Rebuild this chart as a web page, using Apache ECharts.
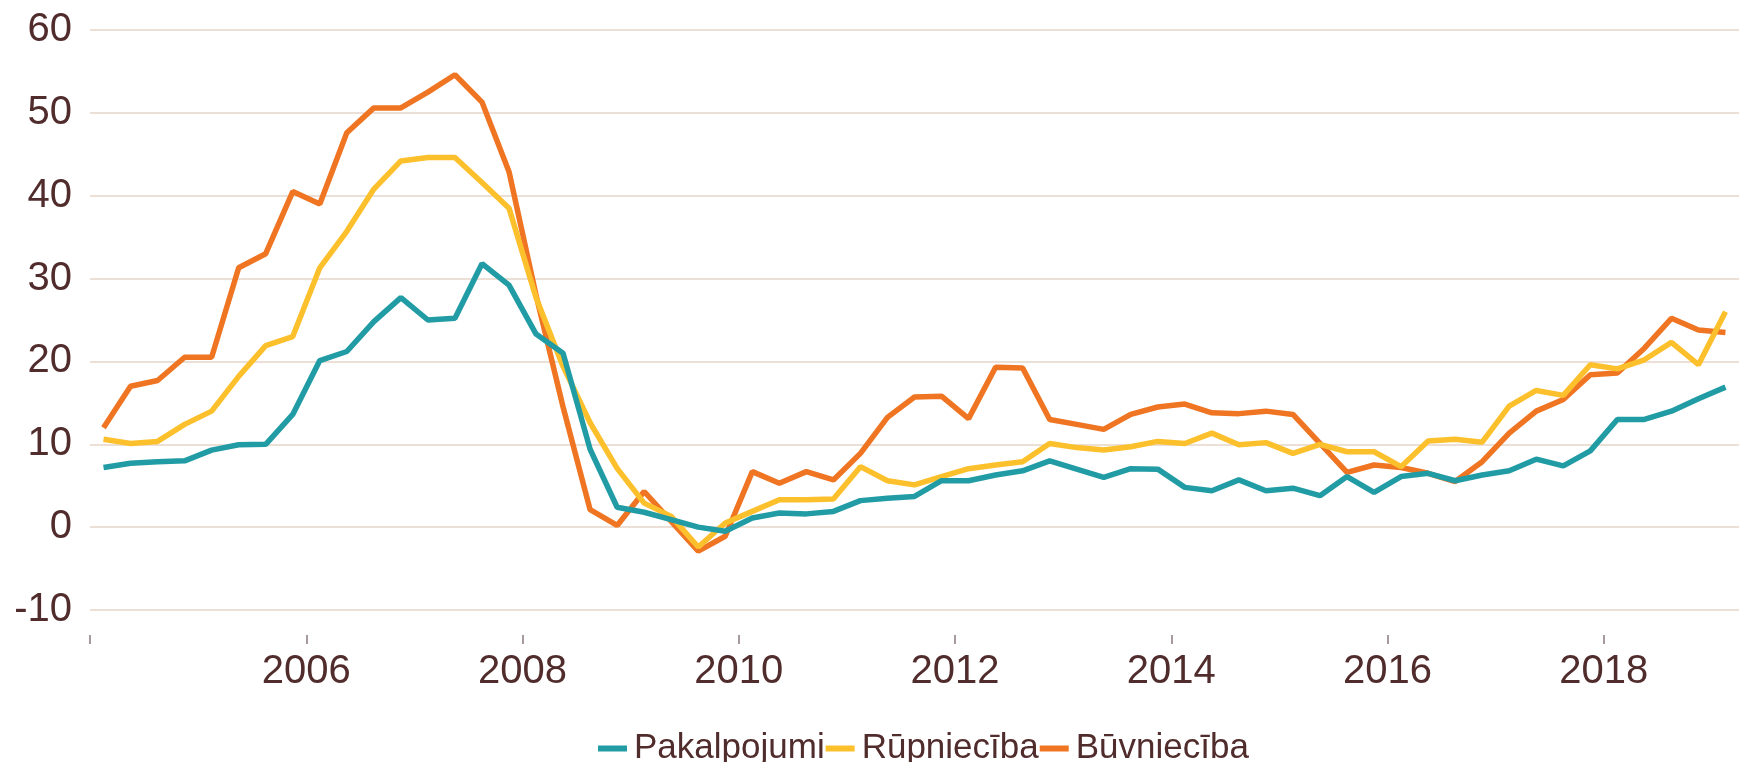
<!DOCTYPE html>
<html lang="lv">
<head>
    <meta charset="UTF-8" />
    <title>Pieaugums</title>
    <style>
        html, body { margin: 0; padding: 0; background: #fff; }
    </style>
</head>
<body>
<div id="main" style="width: 1749px; height: 762px;"></div>
<script src="https://cdn.jsdelivr.net/npm/echarts@6.0.0/dist/echarts.min.js"></script>
<script type="text/javascript">
    // ceturkšņi 2004Q1 - 2019Q1
    var quarters = [
        '2004Q1','2004Q2','2004Q3','2004Q4','2005Q1','2005Q2','2005Q3','2005Q4',
        '2006Q1','2006Q2','2006Q3','2006Q4','2007Q1','2007Q2','2007Q3','2007Q4',
        '2008Q1','2008Q2','2008Q3','2008Q4','2009Q1','2009Q2','2009Q3','2009Q4',
        '2010Q1','2010Q2','2010Q3','2010Q4','2011Q1','2011Q2','2011Q3','2011Q4',
        '2012Q1','2012Q2','2012Q3','2012Q4','2013Q1','2013Q2','2013Q3','2013Q4',
        '2014Q1','2014Q2','2014Q3','2014Q4','2015Q1','2015Q2','2015Q3','2015Q4',
        '2016Q1','2016Q2','2016Q3','2016Q4','2017Q1','2017Q2','2017Q3','2017Q4',
        '2018Q1','2018Q2','2018Q3','2018Q4','2019Q1'
    ];
    // gada iezīmes: '' = ass sākums (2004), bez teksta
    var yearLabels = ['', '2006', '2008', '2010', '2012', '2014', '2016', '2018'];

    var pakalpojumi = [7.2, 7.7, 7.9, 8.0, 9.3, 9.95, 10.0, 13.6, 20.1, 21.2,
        24.8, 27.7, 25.0, 25.2, 31.8, 29.2, 23.3, 21.0, 9.4, 2.4,
        1.8, 0.9, 0.0, -0.5, 1.1, 1.7, 1.6, 1.9, 3.2, 3.5,
        3.7, 5.6, 5.6, 6.3, 6.8, 8.0, 7.0, 6.0, 7.05, 7.0,
        4.8, 4.4, 5.7, 4.4, 4.7, 3.8, 6.1, 4.2, 6.1, 6.5,
        5.6, 6.3, 6.8, 8.2, 7.4, 9.2, 13.0, 13.0, 14.0, 15.5,
        16.9];
    var rupnieciba = [10.6, 10.1, 10.35, 12.4, 14.0, 18.2, 21.9, 23.0, 31.3, 35.7,
        40.8, 44.2, 44.6, 44.6, 41.6, 38.5, 27.7, 19.4, 12.6, 7.1,
        2.9, 1.3, -2.4, 0.5, 1.9, 3.3, 3.3, 3.4, 7.3, 5.6,
        5.1, 6.1, 7.05, 7.5, 7.9, 10.1, 9.6, 9.3, 9.7, 10.35,
        10.1, 11.35, 9.95, 10.2, 8.9, 10.0, 9.1, 9.1, 7.3, 10.4,
        10.6, 10.25, 14.6, 16.5, 15.9, 19.6, 19.1, 20.2, 22.3, 19.6,
        26.0];
    var buvnieciba = [12.0, 17.0, 17.7, 20.5, 20.5, 31.3, 33.0, 40.5, 39.0, 47.6,
        50.6, 50.6, 52.5, 54.6, 51.3, 42.9, 28.0, 14.5, 2.1, 0.2,
        4.3, 0.7, -2.9, -1.1, 6.7, 5.3, 6.7, 5.7, 8.9, 13.25,
        15.7, 15.8, 13.1, 19.3, 19.2, 13.0, 12.4, 11.8, 13.6, 14.5,
        14.85, 13.8, 13.7, 14.0, 13.6, 10.1, 6.6, 7.5, 7.2, 6.5,
        5.5, 7.9, 11.35, 14.0, 15.4, 18.4, 18.6, 21.6, 25.2, 23.8,
        23.5];

    var textColor = '#512c2c';
    var fontName = '"Liberation Sans", Arial, sans-serif';

    var plotLeft = 90, plotRight = 10;
    var plotWidth = 1749 - plotLeft - plotRight;
    // ass ar gadu iezīmēm: 8 ceturkšņi starp iezīmēm, beidzas pie 2018Q1
    var tickSpan = (yearLabels.length - 1) * 8;
    var tickGridWidth = plotWidth * tickSpan / quarters.length;

    var myChart = echarts.init(document.getElementById('main'));

    var option = {
        animation: false,
        grid: [
            { left: plotLeft, right: plotRight, top: 30, bottom: 152, outerBoundsMode: 'none' },
            { left: plotLeft, width: tickGridWidth, top: 30, bottom: 152, outerBoundsMode: 'none' }
        ],
        legend: {
            left: 593,
            top: 726,
            icon: 'rect',
            itemWidth: 29,
            itemHeight: 6,
            itemGap: 1,
            textStyle: {
                color: textColor,
                fontFamily: fontName,
                fontSize: 35,
                lineHeight: 35,
                padding: [0, 0, 0, 2]
            },
            data: ['Pakalpojumi', 'Rūpniecība', 'Būvniecība']
        },
        xAxis: [
            {
                type: 'category',
                gridIndex: 0,
                boundaryGap: true,
                data: quarters,
                axisLine: { show: false, onZero: false },
                axisTick: { show: false },
                axisLabel: { show: false },
                splitLine: { show: false }
            },
            {
                type: 'value',
                gridIndex: 1,
                min: 0,
                max: tickSpan,
                interval: 8,
                offset: 25,
                axisLine: { show: false, onZero: false },
                axisTick: {
                    show: true,
                    length: 9,
                    lineStyle: { color: '#8c7b7b', width: 1.5 }
                },
                axisLabel: {
                    margin: 17,
                    color: textColor,
                    fontFamily: fontName,
                    fontSize: 40,
                    formatter: function (value) {
                        return yearLabels[value / 8] || '';
                    }
                },
                splitLine: { show: false }
            }
        ],
        yAxis: [
            {
                type: 'value',
                gridIndex: 0,
                min: -10,
                max: 60,
                interval: 10,
                axisLine: { show: false },
                axisTick: { show: false },
                axisLabel: {
                    margin: 18,
                    color: textColor,
                    fontFamily: fontName,
                    fontSize: 40
                },
                splitLine: {
                    lineStyle: { color: '#e6d4c7', width: 1.5 }
                }
            },
            {
                type: 'value',
                gridIndex: 1,
                min: 0,
                max: 1,
                show: false
            }
        ],
        series: [
            {
                name: 'Pakalpojumi',
                type: 'line',
                data: pakalpojumi,
                z: 4,
                symbol: 'none',
                color: '#219ca5',
                lineStyle: { width: 5.5, color: '#219ca5' }
            },
            {
                name: 'Rūpniecība',
                type: 'line',
                data: rupnieciba,
                z: 3,
                symbol: 'none',
                color: '#fcc02d',
                lineStyle: { width: 5.5, color: '#fcc02d' }
            },
            {
                name: 'Būvniecība',
                type: 'line',
                data: buvnieciba,
                z: 2,
                symbol: 'none',
                color: '#ef7523',
                lineStyle: { width: 5.5, color: '#ef7523' }
            }
        ]
    };

    myChart.setOption(option);
</script>
</body>
</html>
